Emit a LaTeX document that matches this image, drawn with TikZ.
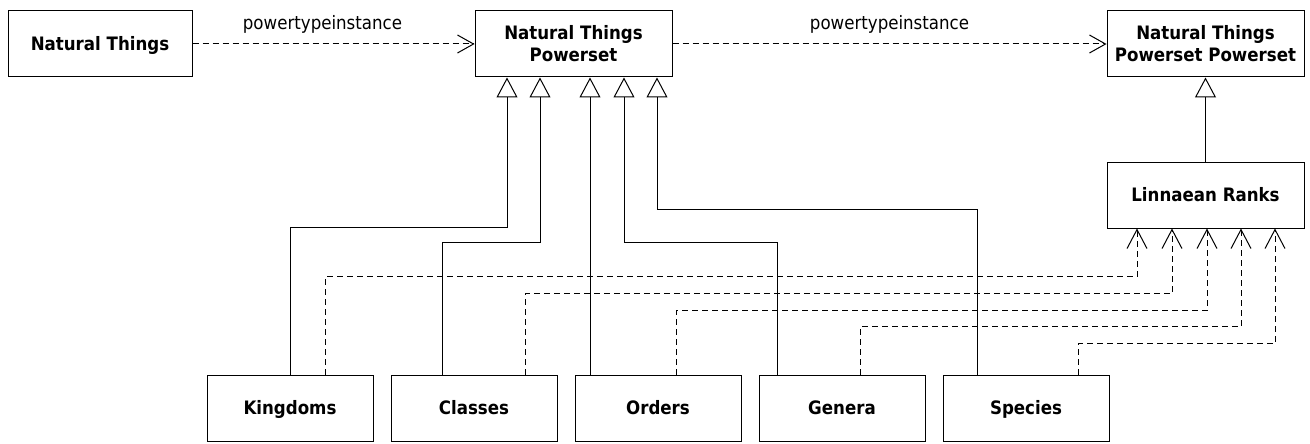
\documentclass[tikz,border=0pt]{standalone}
\usepackage{fontspec}
\setmainfont{DejaVu Sans Condensed}
\usepackage{tikz}
\usetikzlibrary{arrows.meta,positioning}

\begin{document}
\begin{tikzpicture}[x=1pt, y=-1pt, node distance=17pt, line width=1pt, font=\fontsize{18.5}{22}\selectfont]

\tikzstyle{klasse}=[rectangle, draw=black, minimum height=66pt, inner sep=0pt, align=center, font=\fontsize{18.5}{22}\selectfont\bfseries]
\tikzstyle{enkel}=[klasse, text height=13.5pt, text depth=0.5pt]
\tikzstyle{arv}=[-{Triangle[open, length=20pt, width=21pt]}]
\tikzstyle{inst}=[dash pattern=on 6pt off 4pt, -{Straight Barb[length=16pt, width=18pt]}]
\tikzstyle{ranginst}=[dash pattern=on 6pt off 4pt, -{Straight Barb[length=19pt, width=20pt]}]

\useasboundingbox (0,0) rectangle (1310,444);

% top row
\node[enkel, minimum width=184pt] (nt) at (100,44) {Natural Things};
\node[klasse, minimum width=197pt] (ntp) at (573.5,44) {Natural Things\\Powerset};
\node[klasse, minimum width=197pt] (ntpp) at (1205.5,44) {Natural Things\\Powerset Powerset};
\node[enkel, minimum width=197pt, below=84pt of ntpp] (ranks) {Linnaean Ranks};

% bottom row
\node[enkel, minimum width=166pt] (kingdoms) at (290,408) {Kingdoms};
\node[enkel, minimum width=166pt, right=of kingdoms] (classes) {Classes};
\node[enkel, minimum width=166pt, right=of classes] (orders) {Orders};
\node[enkel, minimum width=166pt, right=of orders] (genera) {Genera};
\node[enkel, minimum width=166pt, right=of genera] (species) {Species};

% arrow ends
\coordinate (tk) at ([xshift=-66.5pt]ntp.south);
\coordinate (tc) at ([xshift=-33.5pt]ntp.south);
\coordinate (to) at ([xshift=16.5pt]ntp.south);
\coordinate (tg) at ([xshift=50.5pt]ntp.south);
\coordinate (ts) at ([xshift=83.5pt]ntp.south);

\coordinate (rk) at ([xshift=-68.5pt]ranks.south);
\coordinate (rc) at ([xshift=-33.5pt]ranks.south);
\coordinate (ro) at ([xshift=1.5pt]ranks.south);
\coordinate (rg) at ([xshift=35.5pt]ranks.south);
\coordinate (rs) at ([xshift=69.5pt]ranks.south);

\draw[inst] (nt) -- node[above=7pt, xshift=-11pt] {powertypeinstance} (ntp);
\draw[inst] (ntp) -- node[above=7pt] {powertypeinstance} (ntpp);

\draw[arv] (ranks.north) -- (ntpp.south);

\draw[arv] (kingdoms.north) -- ++(0,-147) -| (tk);
\draw[arv] ([xshift=-32pt]classes.north) -- ++(0,-132) -| (tc);
\draw[arv] (to |- orders.north) -- (to);
\draw[arv] ([xshift=-65pt]genera.north) -- ++(0,-132) -| (tg);
\draw[arv] ([xshift=-49pt]species.north) -- ++(0,-165) -| (ts);

\draw[ranginst] ([xshift=35pt]kingdoms.north) -- ++(0,-98) -| (rk);
\draw[ranginst] ([xshift=51pt]classes.north) -- ++(0,-81) -| (rc);
\draw[ranginst] ([xshift=18pt]orders.north) -- ++(0,-64) -| (ro);
\draw[ranginst] ([xshift=18pt]genera.north) -- ++(0,-48) -| (rg);
\draw[ranginst] ([xshift=52pt]species.north) -- ++(0,-31) -| (rs);

\end{tikzpicture}
\end{document}
